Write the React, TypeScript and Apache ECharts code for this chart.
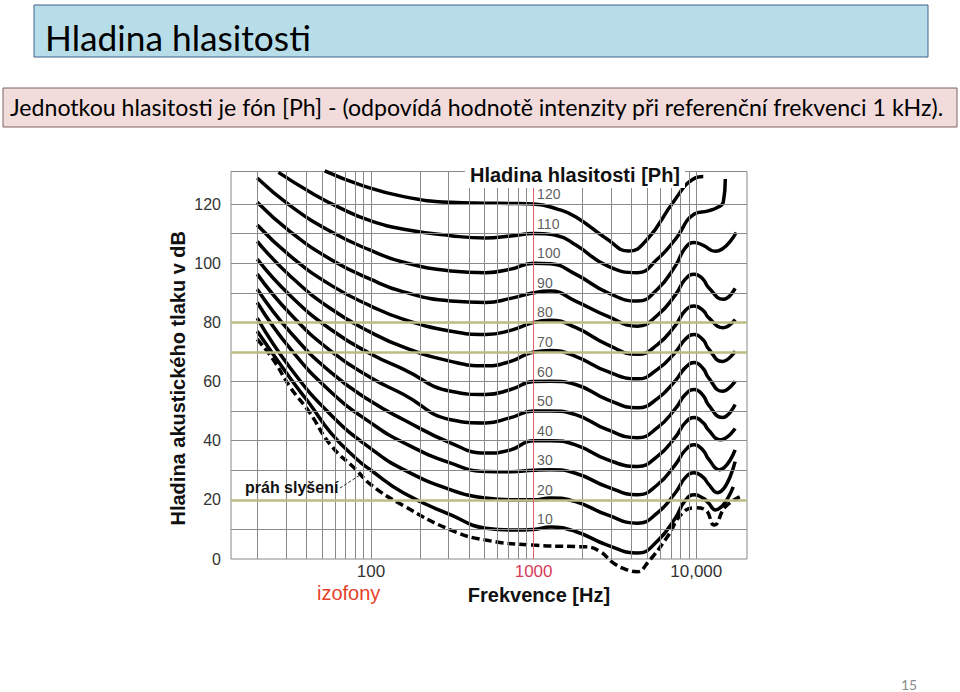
import React, { useEffect, useRef } from "react";
import * as echarts from "echarts";

const SLIDE_TITLE = "Hladina hlasitosti";
const SLIDE_SUBTITLE =
  "Jednotkou hlasitosti je fón [Ph] - (odpovídá hodnotě intenzity při referenční frekvenci 1 kHz).";
const PAGE_NUMBER = "15";
const CHART_TITLE = "Hladina hlasitosti [Ph]";
const X_AXIS_NAME = "Frekvence [Hz]";
const Y_AXIS_NAME = "Hladina akustického tlaku v dB";
const THRESHOLD_NAME = "práh slyšení";
const CURVES_NAME = "izofony";

// loudness levels (phon) of the isophones, top to bottom
const PHON_LEVELS = [120, 110, 100, 90, 80, 70, 60, 50, 40, 30, 20, 10];

// [frequency Hz, sound pressure level dB]
const CURVE_120 = [[52, 131.2], [87, 126.4], [159, 122.5], [310, 120.6], [508, 120.3], [723, 120.2], [1000, 120], [1400, 118.3], [1810, 115.7], [2840, 108.1], [3830, 104.1], [5000, 108.1], [7230, 120.7], [9590, 128.5], [11040, 129.3]];
const CURVE_110 = [[27, 130.7], [43, 123.8], [65, 118.6], [100, 114.3], [159, 111.5], [310, 109.3], [508, 108.5], [723, 109.2], [1000, 110], [1400, 109.3], [1810, 106.2], [2840, 99.1], [4350, 96.8], [5770, 101.4], [7440, 108.1], [9730, 116.6], [11850, 117.7], [13460, 118.8], [14660, 120.7], [15080, 128.5]];
const CURVE_100 = [[20, 128.8], [32, 119.4], [57, 110.6], [100, 104.3], [159, 100.3], [310, 97.4], [508, 96.8], [723, 98], [1000, 100], [1270, 99.8], [1810, 96.3], [2840, 90.1], [4350, 87.2], [5770, 91.2], [7440, 99.1], [8560, 105.2], [9730, 107], [11040, 106], [13070, 104], [17580, 110.4]];
const CURVE_90 = [[20, 120.6], [32, 110.6], [57, 101.2], [100, 94.5], [159, 90.3], [310, 87.2], [508, 86.7], [723, 88.1], [1000, 90], [1270, 90.6], [1810, 87.2], [2840, 82.1], [4350, 78.7], [5770, 82.4], [7440, 89.3], [8560, 94.6], [9730, 96.3], [11040, 94.5], [11850, 91.9], [14660, 87.8], [17330, 91.5]];
const CURVE_80 = [[20, 112.9], [32, 102.4], [57, 92.5], [100, 85.5], [159, 81], [310, 77], [508, 75.9], [723, 77.3], [1000, 80], [1270, 80.7], [1810, 78.3], [2840, 72.5], [4350, 69.2], [5770, 72.5], [7440, 79], [8560, 84], [9730, 85.5], [11040, 84], [11850, 81.7], [14660, 78.2], [17330, 81]];
const CURVE_70 = [[20, 107.4], [32, 95.6], [57, 84.5], [100, 76.6], [159, 71.6], [310, 66.8], [508, 65.3], [723, 66.8], [1000, 70], [1270, 70.5], [1810, 68.5], [2840, 63.4], [4350, 60.9], [5770, 64.1], [7440, 69.9], [8560, 74.3], [9730, 75.9], [11040, 74], [11850, 71.2], [14430, 66.8], [17330, 70.2]];
const CURVE_60 = [[20, 101.4], [32, 89], [57, 77.5], [100, 69.3], [159, 64.1], [310, 56.7], [508, 55.6], [723, 57.3], [1000, 60], [1270, 60.1], [1810, 59], [2840, 53.9], [4350, 51.1], [5770, 54.2], [7440, 60.3], [8560, 64.7], [9730, 66.4], [11040, 64.3], [11850, 61.4], [14430, 56.7], [17330, 60.1]];
const CURVE_50 = [[20, 96.3], [32, 82.8], [57, 70.2], [100, 61.3], [159, 55.6], [310, 47.1], [508, 46], [723, 47.8], [1000, 50], [1270, 50], [1810, 48.8], [2840, 43.7], [4350, 41], [5770, 44.4], [7440, 50.8], [8560, 55.6], [9730, 57.3], [11040, 55.2], [11850, 52.2], [14430, 47.8], [17330, 52.2]];
const CURVE_40 = [[20, 91.2], [32, 76.6], [57, 63], [100, 53.3], [159, 47.1], [310, 39.2], [508, 35.8], [723, 36.9], [1000, 40], [1270, 40], [1810, 38.6], [2840, 33.6], [4350, 31.3], [5770, 34.7], [7440, 41.2], [8560, 46.1], [9730, 47.8], [11040, 46], [11850, 43.7], [14030, 40.3], [17330, 44.1]];
const CURVE_30 = [[20, 86.7], [32, 71], [57, 56.4], [100, 46], [159, 39.3], [310, 32.4], [508, 29.6], [723, 29.5], [1000, 30], [1270, 30.2], [1810, 29], [2840, 24.4], [4350, 21.7], [5770, 25.1], [7440, 31.9], [8560, 36.8], [9730, 38.6], [11040, 36.7], [11850, 33.9], [13850, 30.2], [17330, 36.9]];
const CURVE_20 = [[20, 81.4], [32, 64.5], [57, 48.6], [100, 37.3], [159, 30.2], [310, 23.4], [508, 20.6], [723, 20], [1000, 20], [1270, 20.6], [1810, 19.4], [2840, 14.9], [4350, 12.1], [5770, 15.6], [7440, 22.4], [8560, 27.5], [9730, 29.2], [11040, 27.6], [11850, 25.4], [13460, 22.4], [17330, 32.9]];
const CURVE_10 = [[20, 77], [32, 61], [42, 52.5], [57, 42.5], [81, 34], [100, 30], [159, 22.3], [310, 14.9], [508, 10.4], [723, 9.8], [1000, 10], [1270, 10.8], [1810, 9.3], [2840, 4.7], [4350, 2], [5770, 6.1], [7440, 13.9], [8560, 19.8], [9730, 21.7], [11040, 20.5], [11850, 19], [13070, 16.6], [16870, 24.4]];
const THRESHOLD = [[20, 74.3], [25, 67.5], [32, 58], [42, 49.5], [57, 38.3], [81, 30.2], [100, 25.1], [159, 18], [310, 9.8], [508, 6.4], [1000, 4.7], [1810, 4.2], [2110, 4.1], [2580, 2.4], [3100, -1.4], [3780, -3.7], [4350, -4.3], [5000, -1.4], [6640, 7.5], [8200, 15.5], [9870, 17.3], [11370, 16.6], [12880, 11.5], [15080, 17.6], [18500, 21]];

const CURVES = [CURVE_120, CURVE_110, CURVE_100, CURVE_90, CURVE_80, CURVE_70, CURVE_60, CURVE_50, CURVE_40, CURVE_30, CURVE_20, CURVE_10];

// axes
const X_MIN = 13.8;
const X_MAX = 20500;
const Y_MIN = 0;
const Y_MAX = 131;
const X_TICK_VALUES = [100, 1000, 10000];
const X_TICK_LABELS = ["100", "1000", "10,000"];
const Y_TICK_LABELS = [0, 20, 40, 60, 80, 100, 120];
const X_GRID_FREQS = [20, 30, 40, 50, 60, 70, 80, 90, 100, 200, 300, 400, 500, 600, 700, 800, 900, 2000, 3000, 4000, 5000, 6000, 7000, 8000, 9000, 10000];
const REFERENCE_FREQ = 1000;
const Y_GRID_DB = [10, 20, 30, 40, 50, 60, 70, 80, 90, 100, 110, 120];
const HIGHLIGHT_DB = [20, 70, 80];

const CHART_FONT = '"Liberation Sans", Arial, Helvetica, sans-serif';
const SLIDE_FONT = 'Lato, "Open Sans", sans-serif';

export default function App() {
  const ref = useRef<HTMLDivElement>(null);

  useEffect(() => {
    if (!ref.current) return;
    const chart = echarts.init(ref.current, undefined, { renderer: "svg", width: 960, height: 692 });

    const fit = (text: string, family: string, weight: string, target: number) => {
      const ctx = document.createElement("canvas").getContext("2d");
      if (!ctx) return 24;
      ctx.font = `${weight} 100px ${family}`;
      return (100 * target) / ctx.measureText(text).width;
    };
    const titleSize = fit(SLIDE_TITLE, SLIDE_FONT, "normal", 266);
    const subSize = fit(SLIDE_SUBTITLE, SLIDE_FONT, "normal", 934);

    const curveSeries = CURVES.map((data, i) => ({
      type: "line",
      name: `${PHON_LEVELS[i]} Ph`,
      data,
      smooth: 0.5,
      symbol: "none",
      showSymbol: false,
      clip: false,
      silent: true,
      z: 3,
      lineStyle: { color: "#000", width: 3.5 },
    }));

    const gray = { color: "#8a8a8a", width: 1, type: "solid" };
    const gridSeries = {
      type: "line",
      name: "grid",
      data: [],
      silent: true,
      z: 1,
      markLine: {
        silent: true,
        symbol: ["none", "none"],
        label: { show: false },
        animation: false,
        data: [
          ...X_GRID_FREQS.map((f) => ({ xAxis: f, lineStyle: gray })),
          ...Y_GRID_DB.map((v) => ({ yAxis: v, lineStyle: gray })),
          ...HIGHLIGHT_DB.map((v) => ({ yAxis: v, lineStyle: { color: "#bcbd84", width: 2.5, type: "solid" } })),
          { xAxis: REFERENCE_FREQ, lineStyle: { color: "#e0606e", width: 1, type: "solid" } },
        ],
      },
    };

    const thresholdSeries = {
      type: "line",
      name: THRESHOLD_NAME,
      data: THRESHOLD,
      smooth: 0.5,
      symbol: "none",
      showSymbol: false,
      clip: false,
      silent: true,
      z: 3,
      lineStyle: { color: "#000", width: 3.5, type: [8, 4] },
    };

    const labelSeries = {
      type: "scatter",
      name: "phon labels",
      data: PHON_LEVELS.map((p) => [REFERENCE_FREQ, p]),
      symbolSize: 1,
      itemStyle: { color: "rgba(0,0,0,0)" },
      silent: true,
      z: 4,
      label: {
        show: true,
        position: "right",
        distance: 3,
        offset: [0, -10],
        formatter: (p: any) => String(p.value[1]),
        fontFamily: CHART_FONT,
        fontSize: 14,
        color: "#333",
      },
    };

    chart.setOption({
      animation: false,
      backgroundColor: "#fff",
      title: {
        text: CHART_TITLE,
        left: 465,
        top: 162,
        padding: [3, 5, 3, 5],
        backgroundColor: "#fff",
        textStyle: { fontFamily: CHART_FONT, fontSize: 20, fontWeight: "bold", color: "#111" },
      },
      grid: {
        left: 231,
        top: 171.5,
        width: 516,
        height: 387.5,
        show: true,
        borderColor: "#888",
        borderWidth: 1,
        backgroundColor: "#fff",
        containLabel: false,
      },
      xAxis: {
        type: "log",
        logBase: 10,
        min: X_MIN,
        max: X_MAX,
        name: X_AXIS_NAME,
        nameLocation: "middle",
        nameGap: 24,
        nameTextStyle: {
          fontFamily: CHART_FONT,
          fontSize: 20,
          fontWeight: "bold",
          color: "#111",
          padding: [0, 0, 0, 100],
        },
        axisLine: { show: false },
        axisTick: { show: false },
        splitLine: { show: false },
        axisLabel: {
          margin: 4,
          fontFamily: CHART_FONT,
          fontSize: 17,
          color: (v: number) => (Math.round(v) === REFERENCE_FREQ ? "#d63c58" : "#333"),
          formatter: (v: number) => {
            const i = X_TICK_VALUES.indexOf(Math.round(v));
            return i >= 0 ? X_TICK_LABELS[i] : "";
          },
        },
      },
      yAxis: {
        type: "value",
        min: Y_MIN,
        max: Y_MAX,
        interval: 10,
        name: Y_AXIS_NAME,
        nameLocation: "middle",
        nameGap: 43,
        nameMoveOverlap: false,
        nameTextStyle: {
          fontFamily: CHART_FONT,
          fontSize: 20,
          fontWeight: "bold",
          color: "#111",
          padding: [0, 26, 0, 0],
        },
        axisLine: { show: false },
        axisTick: { show: false },
        splitLine: { show: false },
        axisLabel: {
          margin: 10,
          fontFamily: CHART_FONT,
          fontSize: 16,
          color: "#333",
          formatter: (v: number) => (Y_TICK_LABELS.indexOf(Math.round(v)) >= 0 && Math.abs(v - Math.round(v)) < 1e-6 ? String(Math.round(v)) : ""),
        },
      },
      series: [gridSeries, ...curveSeries, thresholdSeries, labelSeries],
      graphic: [
        { type: "rect", z: 0, shape: { x: 34, y: 5, width: 894, height: 52 }, style: { fill: "#b7dde8", stroke: "#41618a", lineWidth: 1 } },
        { type: "text", z: 1, x: 45, y: 37, style: { text: SLIDE_TITLE, fontFamily: SLIDE_FONT, fontSize: titleSize, fill: "#000", verticalAlign: "middle", align: "left" } },
        { type: "rect", z: 0, shape: { x: 3, y: 88, width: 954, height: 39 }, style: { fill: "#f2dcdb", stroke: "#7d6262", lineWidth: 1 } },
        { type: "text", z: 1, x: 10, y: 107, style: { text: SLIDE_SUBTITLE, fontFamily: SLIDE_FONT, fontSize: subSize, fill: "#000", verticalAlign: "middle", align: "left" } },
        { type: "text", z: 1, x: 909, y: 684, style: { text: PAGE_NUMBER, fontFamily: SLIDE_FONT, fontSize: 14, fill: "#8c8c8c", verticalAlign: "middle", align: "center" } },
        { type: "text", z: 10, x: 245, y: 487, style: { text: THRESHOLD_NAME, fontFamily: CHART_FONT, fontSize: 16, fontWeight: "bold", fill: "#111", verticalAlign: "middle", align: "left" } },
        { type: "line", z: 10, shape: { x1: 340, y1: 488, x2: 360, y2: 475 }, style: { stroke: "#222", lineWidth: 1, lineDash: [3, 2] } },
        { type: "text", z: 10, x: 317, y: 593, style: { text: CURVES_NAME, fontFamily: CHART_FONT, fontSize: 20, fill: "#e5412b", verticalAlign: "middle", align: "left" } },
      ],
    });

    return () => chart.dispose();
  }, []);

  return (
    <div
      ref={ref}
      style={{ position: "fixed", left: 0, top: 0, width: 960, height: 692, background: "#fff" }}
    />
  );
}
